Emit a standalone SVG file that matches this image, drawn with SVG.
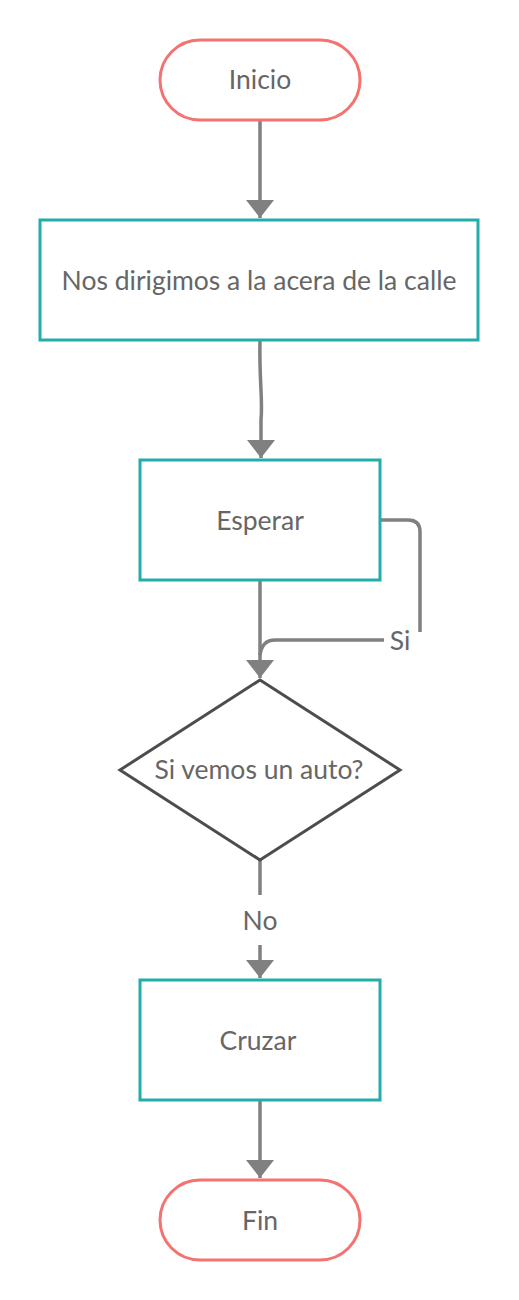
<svg xmlns="http://www.w3.org/2000/svg" width="519" height="1300" viewBox="0 0 519 1300">
<style>
.term{fill:#fff;stroke:#f47370;stroke-width:3}
.proc{fill:#fff;stroke:#22ada8;stroke-width:3}
.dec{fill:#fff;stroke:#4d4d4d;stroke-width:3}
.lbl{font-family:Lato,"Open Sans",sans-serif;font-size:26.5px;fill:#666;text-anchor:middle}
.conn{fill:none;stroke:#808080;stroke-width:3.5}
</style>
<defs>
<marker id="arr" markerUnits="userSpaceOnUse" markerWidth="20" markerHeight="30" refX="18" refY="14" orient="auto">
<path d="M0,0 L18,14 L0,28 Z" fill="#808080"/>
</marker>
</defs>
<rect width="519" height="1300" fill="#fff"/>
<g id="connectors">
<path class="conn" d="M260,120 L260,218" marker-end="url(#arr)"/>
<path class="conn" d="M260,340 C259,380 263,400 261,420 L261,458" marker-end="url(#arr)"/>
<path class="conn" d="M260,580 L260,678" marker-end="url(#arr)"/>
<path class="conn" d="M380,520 L408,520 Q420,520 420,532 L420,632"/>
<path class="conn" d="M384,640 L275,640 Q262,640 260,655"/>
<path class="conn" d="M260,860 L260,895"/>
<path class="conn" d="M260,945 L260,978" marker-end="url(#arr)"/>
<path class="conn" d="M260,1100 L260,1178" marker-end="url(#arr)"/>
<text class="lbl" x="400" y="650">Si</text>
<text class="lbl" x="260" y="930">No</text>
</g>
<g id="inicio">
<rect class="term" x="160" y="40" width="200" height="80" rx="40"/>
<text class="lbl" x="260" y="89">Inicio</text>
</g>
<g id="acera">
<rect class="proc" x="40" y="220" width="438" height="120"/>
<text class="lbl" x="259" y="290">Nos dirigimos a la acera de la calle</text>
</g>
<g id="esperar">
<rect class="proc" x="140" y="460" width="240" height="120"/>
<text class="lbl" x="260" y="530">Esperar</text>
</g>
<g id="decision">
<polygon class="dec" points="260,680 400,770 260,860 120,770"/>
<text class="lbl" x="259" y="779">Si vemos un auto?</text>
</g>
<g id="cruzar">
<rect class="proc" x="140" y="980" width="240" height="120"/>
<text class="lbl" x="258" y="1050">Cruzar</text>
</g>
<g id="fin">
<rect class="term" x="160" y="1180" width="200" height="80" rx="40"/>
<text class="lbl" x="260" y="1230">Fin</text>
</g>
</svg>
